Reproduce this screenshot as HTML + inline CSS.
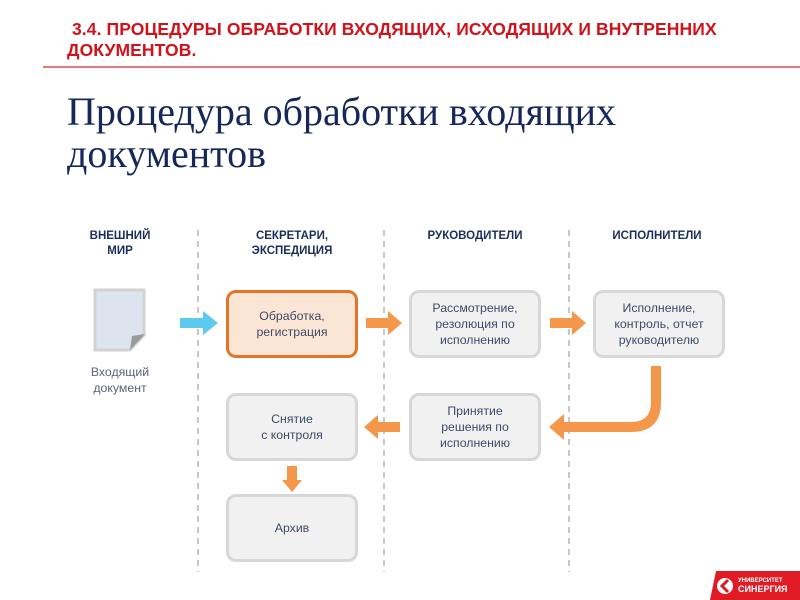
<!DOCTYPE html>
<html><head><meta charset="utf-8"><style>
body{margin:0;width:800px;height:600px;background:#fff;position:relative;overflow:hidden;font-family:"Liberation Sans",sans-serif}
.a{position:absolute}
.h{color:#d2121b;font-weight:bold;font-size:17.5px;line-height:21px;left:67px;top:19px;letter-spacing:0.1px;white-space:nowrap}
.t{font-family:"Liberation Serif",serif;color:#16275a;font-size:40px;line-height:42px;left:67px;top:91px;white-space:nowrap}
.c{color:#1d2d5c;font-weight:bold;font-size:11.5px;line-height:15px;text-align:center;width:140px}
.b{box-sizing:border-box;border:3px solid #d7d7d7;background:#f1f1f1;border-radius:10px;width:132px;height:68px;display:flex;align-items:center;justify-content:center;text-align:center;color:#3e4a6a;font-size:12.3px;line-height:16px}
</style></head><body>
<div class="a h">&nbsp;3.4. ПРОЦЕДУРЫ ОБРАБОТКИ ВХОДЯЩИХ, ИСХОДЯЩИХ И ВНУТРЕННИХ<br>ДОКУМЕНТОВ.</div>
<div class="a" style="left:43px;top:66px;width:757px;height:2px;background:#e47a80"></div>
<div class="a t">Процедура обработки входящих<br>документов</div>
<div class="a c" style="left:50px;top:229px">ВНЕШНИЙ<br>МИР</div>
<div class="a c" style="left:222px;top:229px">СЕКРЕТАРИ,<br>ЭКСПЕДИЦИЯ</div>
<div class="a c" style="left:405px;top:229px">РУКОВОДИТЕЛИ</div>
<div class="a c" style="left:587px;top:229px">ИСПОЛНИТЕЛИ</div>
<svg class="a" style="left:0;top:0" width="800" height="600">
<g stroke="#c8c8c8" stroke-width="2" stroke-dasharray="6,5">
<line x1="198" y1="230" x2="198" y2="572"/><line x1="384" y1="230" x2="384" y2="572"/><line x1="569" y1="230" x2="569" y2="572"/></g>
<path d="M95 290 H144 V335 L130 350 H95 Z" fill="#dde4ef" stroke="#d2d2d2" stroke-width="3"/>
<path d="M130 350 L132 336 L145 334 Z" fill="#9a9a9a"/>
<path d="M180 318 H203 V311 L218 323 L203 335 V328 H180 Z" fill="#5ccaf0"/>
<g fill="#f4974a">
<path d="M366 318 H388 V311 L402 323 L388 335 V328 H366 Z"/>
<path d="M550 318 H572 V311 L586 323 L572 335 V328 H550 Z"/>
<path d="M400 422 H378 V415 L364 427 L378 439 V432 H400 Z"/>
<path d="M287 466 H297 V480 H302 L292 492 L282 480 H287 Z"/>
<path d="M651 366 H661 V402 Q661 432 631 432 H564 V440 L549 427 L564 414 V422 H631 Q651 422 651 402 Z"/>
</g>
<path d="M716 571 H800 V600 H710 Z" fill="#e01b25"/>
<circle cx="725" cy="586" r="8" fill="#fff"/>
<path d="M728 580 L722 586 L728 592" stroke="#e01b25" stroke-width="3" fill="none"/>
<text x="738" y="582" fill="#fff" font-size="6" font-weight="bold" font-family="Liberation Sans">УНИВЕРСИТЕТ</text>
<text x="738" y="592" fill="#fff" font-size="9" font-weight="bold" font-family="Liberation Sans">СИНЕРГИЯ</text>
</svg>
<div class="a" style="left:70px;top:364px;width:100px;text-align:center;color:#5a6378;font-size:12.3px;line-height:16px">Входящий<br>документ</div>
<div class="a b" style="left:226px;top:290px;border-color:#e2752a;background:#fbe6d6">Обработка,<br>регистрация</div>
<div class="a b" style="left:409px;top:290px">Рассмотрение,<br>резолюция по<br>исполнению</div>
<div class="a b" style="left:593px;top:290px">Исполнение,<br>контроль, отчет<br>руководителю</div>
<div class="a b" style="left:226px;top:393px">Снятие<br>с контроля</div>
<div class="a b" style="left:409px;top:393px">Принятие<br>решения по<br>исполнению</div>
<div class="a b" style="left:226px;top:494px">Архив</div>
</body></html>
